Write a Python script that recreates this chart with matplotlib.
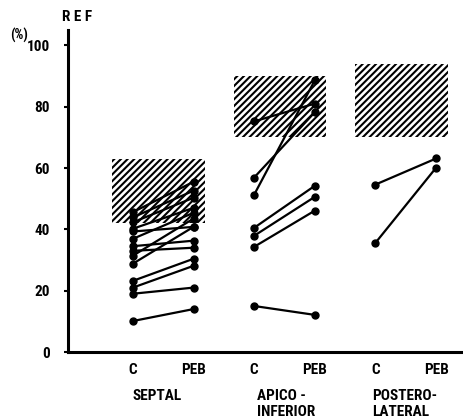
import matplotlib
matplotlib.use("Agg")
import matplotlib.pyplot as plt
from matplotlib import font_manager as fm
from matplotlib.patches import Rectangle

# ---------------- data ----------------
groups = ["SEPTAL", "APICO -\nINFERIOR", "POSTERO-\nLATERAL"]
conditions = ["C", "PEB"]

# normal range (hatched boxes), %
normal_lo = [42, 70, 70]
normal_hi = [63, 90, 94]

# paired values (C -> PEB), %
septal_c   = [10.1, 19.0, 21.0, 23.2, 28.8, 31.4, 33.0, 34.5, 36.9, 39.3, 40.2, 42.3, 43.9, 45.6]
septal_peb = [14.0, 21.0, 28.1, 30.4, 40.8, 43.5, 34.0, 36.3, 45.4, 40.8, 47.0, 50.3, 52.6, 55.5]
apico_c    = [15.0, 34.3, 37.9, 40.5, 51.3, 56.9, 75.2]
apico_peb  = [12.1, 46.1, 50.6, 54.2, 88.6, 78.2, 81.0]
postero_c   = [35.6, 54.6]
postero_peb = [60.1, 63.1]

series_c = [septal_c, apico_c, postero_c]
series_peb = [septal_peb, apico_peb, postero_peb]

# ---------------- font ----------------
names = {f.name for f in fm.fontManager.ttflist}
fam = "DejaVu Sans"
for cand in ["DejaVu Sans Condensed", "Liberation Sans Narrow", "Roboto Condensed", "Open Sans Condensed"]:
    if cand in names:
        fam = cand
        break
plt.rcParams["font.family"] = [fam, "DejaVu Sans"]
plt.rcParams["hatch.linewidth"] = 1.5

W, H = 464, 420
fig = plt.figure(figsize=(W / 100, H / 100), dpi=100)
ax = fig.add_axes([68 / W, 68 / H, (W - 68) / W, (352 - 30) / H])

ax.set_ylim(0, 105)
ax.set_xlim(-1.07, 5.46)

for g in range(3):
    xc, xp = 2 * g, 2 * g + 1
    ax.add_patch(Rectangle((xc - 0.34, normal_lo[g]), (xp + 0.19) - (xc - 0.34),
                           normal_hi[g] - normal_lo[g], facecolor="white",
                           edgecolor="black", linewidth=0, hatch="/////", zorder=1))
    for c, p in zip(series_c[g], series_peb[g]):
        ax.plot([xc, xp], [c, p], color="black", lw=1.6, marker="o", ms=5,
                solid_capstyle="round", zorder=3)

for s in ["top", "right"]:
    ax.spines[s].set_visible(False)
for s in ["left", "bottom"]:
    ax.spines[s].set_linewidth(2.2)

ax.set_yticks([0, 20, 40, 60, 80, 100])
ax.tick_params(axis="y", length=3, width=1.5, pad=10, labelsize=11)
ax.set_xticks(range(6))
ax.set_xticklabels(conditions * 3)
ax.tick_params(axis="x", length=0, pad=8, labelsize=11)
for t in ax.get_xticklabels() + ax.get_yticklabels():
    t.set_fontweight("bold")

fig.text(62 / W, 1 - 17 / H, "R E F", fontsize=11, ha="left", va="center", fontweight="bold")
fig.text(10 / W, 1 - 35 / H, "(%)", fontsize=10, ha="left", va="center", fontweight="bold")

label_x = [133, 257, 372]
for g, lbl in enumerate(groups):
    fig.text(label_x[g] / W, 1 - 389 / H, lbl, fontsize=11, ha="left", va="top",
             linespacing=1.2, fontweight="bold")

fig.savefig("out.png", dpi=100)
